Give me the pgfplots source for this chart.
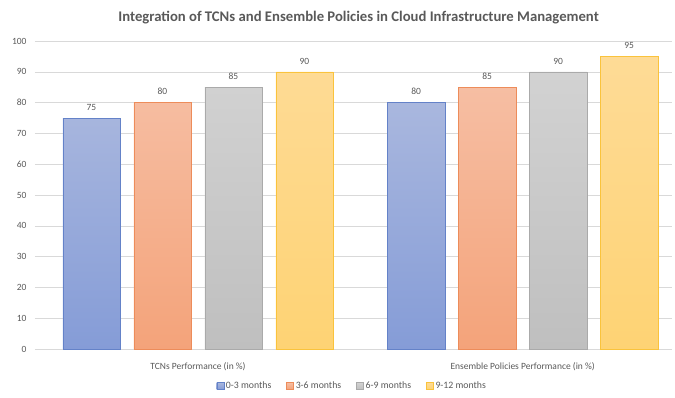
\documentclass[border=0pt]{standalone}
\usepackage{pgfplots}
\pgfplotsset{compat=1.18}
\usepackage{fontspec}
\setmainfont{Carlito}
\definecolor{txt}{RGB}{89,89,89}
\definecolor{gridc}{RGB}{217,217,217}
\definecolor{bT}{RGB}{169,183,222}\definecolor{bB}{RGB}{133,156,215}\definecolor{bD}{RGB}{100,130,200}
\definecolor{oT}{RGB}{246,190,163}\definecolor{oB}{RGB}{244,163,122}\definecolor{oD}{RGB}{237,140,90}
\definecolor{gT}{RGB}{210,210,210}\definecolor{gB}{RGB}{191,191,191}\definecolor{gD}{RGB}{170,170,170}
\definecolor{yT}{RGB}{254,219,150}\definecolor{yB}{RGB}{254,211,116}\definecolor{yD}{RGB}{250,195,60}
\begin{document}
\begin{tikzpicture}
\useasboundingbox (0pt,0pt) rectangle (675pt,397pt);
\begin{axis}[
  at={(35pt,48pt)}, anchor=south west,
  scale only axis, width=637pt, height=308pt,
  xmin=-0.502, xmax=1.460, ymin=0, ymax=100,
  ytick={0,10,...,100},
  xtick={0,1},
  xticklabels={TCNs Performance (in \%), Ensemble Policies Performance (in \%)},
  axis lines*=left,
  y axis line style={draw=none},
  x axis line style={draw=gridc, -},
  major tick length=0pt,
  ymajorgrids, grid style={gridc, line width=0.6pt},
  /pgf/number format/assume math mode=true,
  tick label style={text=txt, font=\fontsize{9.5}{11}\selectfont},
  yticklabel style={xshift=-5pt},
  xticklabel style={yshift=-10pt},
  ybar=13.6pt, bar width=57.4pt,
  nodes near coords,
  every node near coord/.append style={text=txt, font=\fontsize{9.5}{11}\selectfont, yshift=4pt},
  title={Integration of TCNs and Ensemble Policies in Cloud Infrastructure Management},
  title style={at={(0.508,1)}, anchor=south, yshift=7pt, text=txt, font=\bfseries\fontsize{14.7}{17}\selectfont},
  legend style={at={(0.498,-0.12)}, anchor=center, draw=none, fill=none,
    legend columns=4, font=\fontsize{9.8}{11}\selectfont, text=txt,
    /tikz/every even column/.append style={column sep=13pt}},
  legend image code/.code={\draw[#1] (0pt,-3.5pt) rectangle (7pt,3.5pt);},
]
\addplot[draw=bD, top color=bT, bottom color=bB] coordinates {(0,75) (1,80)};
\addplot[draw=oD, top color=oT, bottom color=oB] coordinates {(0,80) (1,85)};
\addplot[draw=gD, top color=gT, bottom color=gB] coordinates {(0,85) (1,90)};
\addplot[draw=yD, top color=yT, bottom color=yB] coordinates {(0,90) (1,95)};
\legend{0-3 months, 3-6 months, 6-9 months, 9-12 months}
\end{axis}
\end{tikzpicture}
\end{document}
